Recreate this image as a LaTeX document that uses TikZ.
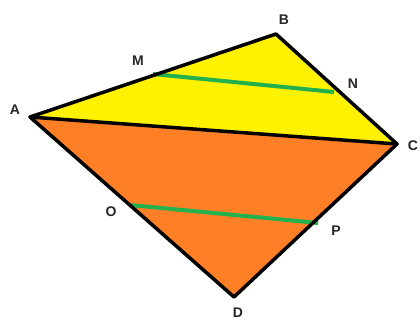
\documentclass[tikz,border=0pt]{standalone}
\usepackage{fontspec}
\setmainfont{Liberation Sans}
\definecolor{tyellow}{RGB}{255,242,0}
\definecolor{torange}{RGB}{255,127,39}
\definecolor{tgreen}{RGB}{34,177,76}
\tikzset{
  lbl/.style={font=\fontsize{14}{14}\selectfont\bfseries, text=black!85, inner sep=0pt},
  edge/.style={draw=black, line width=3.5pt, line join=round, line cap=round},
  mid/.style={draw=tgreen, line width=4pt}
}
\begin{document}
\begin{tikzpicture}[x=1pt,y=-1pt]
\useasboundingbox (0,0) rectangle (420,321);
\coordinate (A) at (30,117);
\coordinate (B) at (276,34);
\coordinate (C) at (397,144);
\coordinate (D) at (234,297);
\coordinate (M) at (153,74);
\coordinate (N) at (334,92);
\coordinate (O) at (130,205);
\coordinate (P) at (318,223);
\fill[tyellow] (A) -- (B) -- (C) -- cycle;
\fill[torange] (A) -- (C) -- (D) -- cycle;
\draw[mid] (M) -- (N);
\draw[mid] (O) -- (P);
\draw[edge] (A) -- (B) -- (C) -- (D) -- cycle;
\draw[edge] (A) -- (C);
\node[lbl] (lA) at (15,110) {A};
\node[lbl] (lB) at (284,20) {B};
\node[lbl] (lC) at (413,146) {C};
\node[lbl] (lD) at (238,313) {D};
\node[lbl] (lM) at (138,61) {M};
\node[lbl] (lN) at (353,84) {N};
\node[lbl] (lO) at (111,212) {O};
\node[lbl] (lP) at (336,231) {P};
\end{tikzpicture}
\end{document}
